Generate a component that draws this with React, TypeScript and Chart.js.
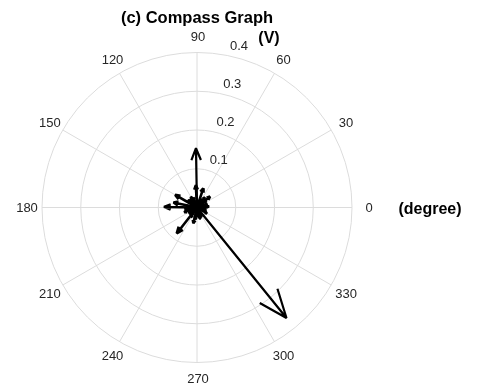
import React, { useEffect, useRef } from "react";
import { Chart, registerables } from "chart.js";

Chart.register(...registerables);

// Arrow magnitudes (V) and directions (degrees)
const magnitudes = [
  0.367, 0.153, 0.085, 0.085, 0.062, 0.065, 0.058, 0.052, 0.044, 0.042,
  0.03, 0.035, 0.032, 0.028, 0.03, 0.025, 0.027, 0.024, 0.026, 0.022,
  0.02, 0.018, 0.021, 0.019, 0.016, 0.015, 0.014, 0.012, 0.013, 0.01,
  0.031, 0.029, 0.033, 0.027, 0.03, 0.028, 0.032, 0.026, 0.029, 0.031,
  0.024, 0.027, 0.025, 0.023, 0.028, 0.022,
];
const anglesDeg = [
  309, 91, 179, 232, 168, 150, 93, 72, 40, 257,
  329, 200, 120, 20, 285, 60, 135, 350, 225, 300,
  10, 100, 190, 270, 45, 160, 315, 80, 245, 210,
  5, 35, 52, 110, 142, 172, 188, 215, 238, 262,
  278, 295, 338, 355, 128, 65,
];

const angleTicks = [0, 30, 60, 90, 120, 150, 180, 210, 240, 270, 300, 330];
const radialTicks = [0.1, 0.2, 0.3, 0.4];
const radialTickLabels = ["0.1", "0.2", "0.3", "0.4"];
const rMax = 0.4;
const titleText = "(c) Compass Graph";
const radialUnit = "(V)";
const angleUnit = "(degree)";

const FONT = '"Liberation Sans", Arial, Helvetica, sans-serif';

function arrowPoints(m: number, deg: number) {
  const a = (deg * Math.PI) / 180;
  const zx = m * Math.cos(a);
  const zy = m * Math.sin(a);
  // Matlab compass arrow: [0 1 .8 1 .8] + i[0 0 .08 0 -.08], times z
  const xx = [0, 1, 0.8, 1, 0.8];
  const yy = [0, 0, 0.08, 0, -0.08];
  return xx.map((u, i) => ({
    x: u * zx - yy[i] * zy,
    y: u * zy + yy[i] * zx,
  }));
}

const polarGrid = {
  id: "polarGrid",
  beforeDatasetsDraw(chart: any) {
    const { ctx } = chart;
    const xs = chart.scales.x;
    const ys = chart.scales.y;
    const cx = xs.getPixelForValue(0);
    const cy = ys.getPixelForValue(0);
    const R = xs.getPixelForValue(rMax) - cx;
    ctx.save();
    ctx.strokeStyle = "#dcdcdc";
    ctx.lineWidth = 1;
    for (const r of radialTicks) {
      const rp = xs.getPixelForValue(r) - cx;
      ctx.beginPath();
      ctx.arc(cx, cy, rp, 0, Math.PI * 2);
      ctx.stroke();
    }
    for (const a of angleTicks) {
      const rad = (a * Math.PI) / 180;
      ctx.beginPath();
      ctx.moveTo(cx, cy);
      ctx.lineTo(
        xs.getPixelForValue(rMax * Math.cos(rad)),
        ys.getPixelForValue(rMax * Math.sin(rad))
      );
      ctx.stroke();
    }
    // angle labels
    ctx.fillStyle = "#262626";
    ctx.font = `13px ${FONT}`;
    ctx.textAlign = "center";
    ctx.textBaseline = "middle";
    for (const a of angleTicks) {
      const rad = (a * Math.PI) / 180;
      const d = R + 16;
      ctx.fillText(String(a), cx + d * Math.cos(rad) + 1, cy - d * Math.sin(rad) + 1);
    }
    // radial tick labels
    ctx.textAlign = "left";
    ctx.textBaseline = "alphabetic";
    const la = (80 * Math.PI) / 180;
    radialTicks.forEach((r, i) => {
      const px = xs.getPixelForValue(r * Math.cos(la));
      const py = ys.getPixelForValue(r * Math.sin(la));
      ctx.fillText(radialTickLabels[i], px + 6, py - 5);
    });
    // units and title
    ctx.fillStyle = "#000";
    ctx.font = `bold 16px ${FONT}`;
    ctx.textAlign = "center";
    ctx.textBaseline = "middle";
    ctx.fillText(radialUnit, cx + 72, cy - R - 14);
    ctx.fillText(angleUnit, cx + R + 78, cy + 2);
    ctx.font = `bold 16.5px ${FONT}`;
    ctx.fillText(titleText, cx, 18);
    ctx.restore();
  },
};

export default function App() {
  const ref = useRef<HTMLCanvasElement | null>(null);
  useEffect(() => {
    if (!ref.current) return;
    const datasets = magnitudes.map((m, i) => ({
      data: arrowPoints(m, anglesDeg[i]),
      showLine: true,
      borderColor: "#000",
      backgroundColor: "#000",
      borderWidth: m < 0.1 ? 2.6 : 2.2,
      pointRadius: 0,
      pointHoverRadius: 0,
      fill: false,
      tension: 0,
      borderJoinStyle: "bevel" as const,
    }));
    const chart = new Chart(ref.current, {
      type: "scatter",
      data: { datasets },
      options: {
        responsive: false,
        animation: false,
        devicePixelRatio: 1,
        layout: { padding: { left: 42, right: 126, top: 52.5, bottom: 24.5 } },
        scales: {
          x: { type: "linear", min: -rMax, max: rMax, display: false },
          y: { type: "linear", min: -rMax, max: rMax, display: false },
        },
        plugins: {
          legend: { display: false },
          tooltip: { enabled: false },
          title: { display: false },
        },
      },
      plugins: [polarGrid],
    });
    return () => chart.destroy();
  }, []);
  return (
    <div style={{ position: "absolute", left: 0, top: 0, width: 478, height: 387, background: "#fff" }}>
      <canvas ref={ref} width={478} height={387} />
    </div>
  );
}
